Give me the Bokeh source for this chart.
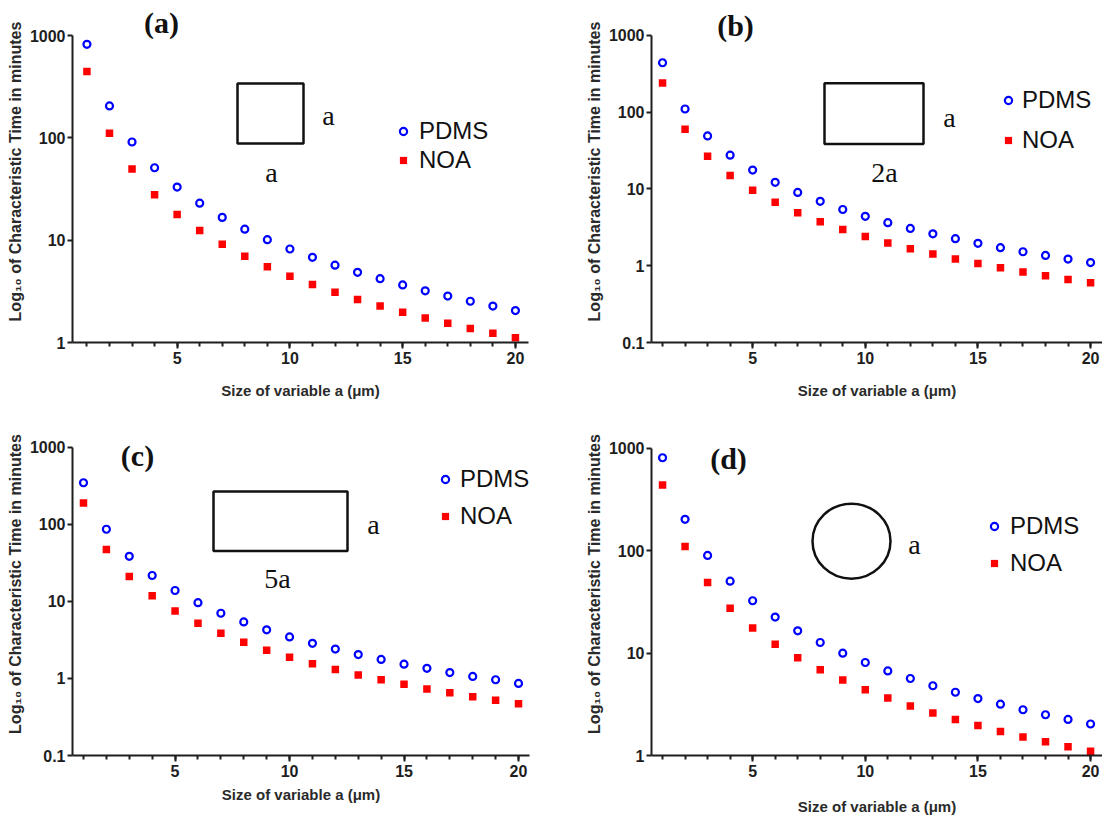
import math

from bokeh.embed import file_html
from bokeh.layouts import column, row
from bokeh.models import (CustomJSTickFormatter, FixedTicker, Label, Legend,
                          LegendItem, Range1d, Title)
from bokeh.plotting import figure
from bokeh.resources import INLINE

# ---------------------------------------------------------------- data
sizes_um = list(range(1, 21))

# (a) square cross-section a x a
pdms_a = [820, 205, 91, 51, 33, 23, 16.7, 12.8, 10.1, 8.2,
          6.8, 5.7, 4.85, 4.2, 3.65, 3.2, 2.84, 2.53, 2.27, 2.05]
noa_a = [445, 111, 49.5, 27.8, 17.8, 12.4, 9.1, 6.95, 5.5, 4.45,
         3.68, 3.09, 2.63, 2.27, 1.98, 1.74, 1.54, 1.37, 1.23, 1.11]

# (b) rectangle 2a x a
pdms_b = [440, 110, 49, 27.5, 17.6, 12.2, 9.0, 6.9, 5.4, 4.4,
          3.64, 3.06, 2.6, 2.25, 1.96, 1.72, 1.52, 1.36, 1.22, 1.1]
noa_b = [240, 60, 26.7, 15, 9.6, 6.7, 4.9, 3.75, 2.96, 2.4,
         1.98, 1.67, 1.42, 1.22, 1.07, 0.94, 0.83, 0.74, 0.66, 0.6]

# (c) rectangle 5a x a
pdms_c = [345, 86, 38.3, 21.6, 13.8, 9.6, 7.0, 5.4, 4.26, 3.45,
          2.85, 2.4, 2.04, 1.76, 1.53, 1.35, 1.19, 1.06, 0.96, 0.86]
noa_c = [188, 47, 20.9, 11.8, 7.5, 5.2, 3.84, 2.94, 2.32, 1.88,
         1.55, 1.3, 1.11, 0.96, 0.84, 0.73, 0.65, 0.58, 0.52, 0.47]

# (d) circular cross-section, diameter a
pdms_d = [810, 203, 90, 50.5, 32.5, 22.5, 16.5, 12.7, 10.0, 8.1,
          6.7, 5.65, 4.8, 4.15, 3.6, 3.17, 2.8, 2.5, 2.25, 2.03]
noa_d = [440, 110, 49, 27.5, 17.6, 12.2, 9.0, 6.9, 5.45, 4.4,
         3.65, 3.05, 2.6, 2.25, 1.96, 1.72, 1.52, 1.36, 1.22, 1.1]

series_names = ["PDMS", "NOA"]
x_ticks = [5, 10, 15, 20]
y_ticks_1 = [1, 10, 100, 1000]
y_ticks_01 = [0.1, 1, 10, 100, 1000]

x_title = "Size of variable a (\u03bcm)"
y_title = "Log\u2081\u2080 of Characteristic Time in minutes"

# ---------------------------------------------------------------- style
SANS = "Liberation Sans"
SERIF = "Liberation Serif"
BLUE = "#0000FF"
RED = "#FF0000"
INK = "#1e1e1e"


class Panel:
    """Figure placed at page offset (ox, oy).

    `axis` gives, in page px, the left of the y axis, the pixel of the axis
    top value, the right end of the x axis and the pixel of the bottom value.
    The plotting frame reaches up to the figure top so that the panel letter
    sits inside it; the axis itself is bounded to (y0, y1).
    """

    def __init__(self, ox, oy, w, h, axis, xr, yr, xlab_standoff):
        self.ox, self.oy, self.w, self.h = ox, oy, w, h
        self.fl, self.at, self.fr, self.fb = axis
        self.ft = oy
        self.xr = xr
        self.ybounds = yr
        l0, l1 = math.log10(yr[0]), math.log10(yr[1])
        per_px = (l1 - l0) / (self.fb - self.at)
        self.yr = (yr[0], 10 ** (l1 + (self.at - self.ft) * per_px))
        self.xlab_standoff = xlab_standoff

    def data_x(self, sx):
        x0, x1 = self.xr
        return x0 + (sx - self.fl) / (self.fr - self.fl) * (x1 - x0)

    def data_y(self, sy):
        l0, l1 = math.log10(self.yr[0]), math.log10(self.yr[1])
        return 10 ** (l1 - (sy - self.ft) / (self.fb - self.ft) * (l1 - l0))


def build(panel, pdms, noa, y_ticks, letter, letter_pos, legend_spec):
    p = figure(
        width=panel.w, height=panel.h,
        x_range=Range1d(*panel.xr), y_range=Range1d(*panel.yr),
        y_axis_type="log",
        output_backend="svg", toolbar_location=None,
        min_border_left=panel.fl - panel.ox,
        min_border_right=panel.ox + panel.w - panel.fr,
        min_border_top=0,
        min_border_bottom=panel.oy + panel.h - panel.fb,
    )
    p.outline_line_color = None
    p.xgrid.visible = False
    p.ygrid.visible = False
    p.background_fill_color = "white"
    p.border_fill_color = "white"

    for ax in (p.xaxis[0], p.yaxis[0]):
        ax.axis_line_color = INK
        ax.axis_line_width = 2
        ax.major_tick_line_color = INK
        ax.major_tick_line_width = 2
        ax.minor_tick_line_color = INK
        ax.minor_tick_line_width = 2
        ax.major_tick_in = 0
        ax.minor_tick_in = 0
        ax.major_label_text_font = SANS
        ax.major_label_text_font_style = "bold"
        ax.major_label_text_font_size = "16px"
        ax.major_label_text_color = INK
        ax.axis_label_text_font = SANS
        ax.axis_label_text_font_style = "bold"
        ax.axis_label_text_font_size = "15px"
        ax.axis_label_text_color = "#2a2a2a"

    xa = p.xaxis[0]
    xa.ticker = FixedTicker(ticks=x_ticks, minor_ticks=sizes_um)
    xa.major_tick_out = 6
    xa.minor_tick_out = 4
    xa.major_label_standoff = 3
    xa.axis_label = x_title
    xa.axis_label_standoff = panel.xlab_standoff

    ya = p.yaxis[0]
    ya.bounds = panel.ybounds
    ya.ticker = FixedTicker(ticks=y_ticks, minor_ticks=[])
    ya.formatter = CustomJSTickFormatter(code="return String(tick)")
    ya.major_tick_out = 5
    ya.minor_tick_out = 0
    ya.major_label_standoff = 2

    # y title as a side title so it can be centred on the axis span,
    # not on the taller frame
    frame_mid = (panel.ft + panel.fb) / 2
    axis_mid = (panel.at + panel.fb) / 2
    p.add_layout(Title(
        text=y_title, align="center", offset=axis_mid - frame_mid,
        text_font=SANS, text_font_style="bold", text_font_size="16px",
        text_color="#2a2a2a", standoff=6), "left")

    r_pdms = p.scatter(sizes_um, pdms, marker="circle", size=7,
                       fill_color=None, line_color=BLUE, line_width=2.2)
    r_noa = p.scatter(sizes_um, noa, marker="square", size=7.5,
                      fill_color=RED, line_color=None)

    # panel letter
    p.add_layout(Label(
        x=panel.data_x(letter_pos[0]), y=panel.data_y(letter_pos[1]),
        text=letter, text_font=SERIF, text_font_style="bold",
        text_font_size="30px", text_color="#111111",
        text_align="center", text_baseline="middle"))

    # legend
    cx, y1, y2, text_x = legend_spec
    row_h = 28
    left = cx - 9
    legend = Legend(
        items=[LegendItem(label=series_names[0], renderers=[r_pdms]),
               LegendItem(label=series_names[1], renderers=[r_noa])],
        location=(left - panel.fl, panel.fb - (y2 + row_h / 2)),
        orientation="vertical",
        border_line_color=None, background_fill_alpha=0,
        padding=0, margin=0, spacing=int(round(y2 - y1 - row_h)),
        glyph_width=18, glyph_height=row_h, label_height=row_h,
        label_standoff=int(round(text_x - left - 18)),
        label_text_font=SANS, label_text_font_size="24px",
        label_text_color="#111111",
    )
    p.add_layout(legend)
    return p


def shape_label(p, panel, text, sx, sy):
    p.add_layout(Label(
        x=panel.data_x(sx), y=panel.data_y(sy), text=text,
        text_font=SERIF, text_font_size="28px", text_color="#111111",
        text_align="center", text_baseline="middle"))


def shape_box(p, panel, l, t, r, b):
    p.quad(left=[panel.data_x(l)], right=[panel.data_x(r)],
           top=[panel.data_y(t)], bottom=[panel.data_y(b)],
           fill_color=None, line_color="#111111", line_width=2.5)


# ---------------------------------------------------------------- panels
P_a = Panel(0, 0, 551, 412, (72, 35, 528, 342), (0.36, 20.58), (1, 1000), 15)
P_b = Panel(551, 0, 551, 412, (651, 35, 1102, 343), (0.51, 20.53), (0.1, 1000), 15)
P_c = Panel(0, 412, 551, 405, (72, 447, 529, 759), (0.52, 20.48), (0.1, 1000), 6)
P_d = Panel(551, 412, 551, 405, (651, 448, 1102, 756), (0.51, 20.53), (1, 1000), 18)

pa = build(P_a, pdms_a, noa_a, y_ticks_1, "(a)", (161, 22), (403, 131, 160, 419))
shape_box(pa, P_a, 237, 83, 303, 143)
shape_label(pa, P_a, "a", 328, 115)
shape_label(pa, P_a, "a", 271, 172)

pb = build(P_b, pdms_b, noa_b, y_ticks_01, "(b)", (735, 25), (1008, 101, 141, 1022))
shape_box(pb, P_b, 824, 83, 923, 144)
shape_label(pb, P_b, "a", 949, 117)
shape_label(pb, P_b, "2a", 884, 173)

pc = build(P_c, pdms_c, noa_c, y_ticks_01, "(c)", (137, 456), (445, 483, 520, 460))
shape_box(pc, P_c, 213, 492, 347, 552)
shape_label(pc, P_c, "a", 373, 525)
shape_label(pc, P_c, "5a", 277, 580)

pd = build(P_d, pdms_d, noa_d, y_ticks_1, "(d)", (728, 458), (994, 527, 564, 1010))
pd.ellipse(x=[P_d.data_x(851)], y=[P_d.data_y(541)], width=78, height=75,
           width_units="screen", height_units="screen",
           fill_color=None, line_color="#111111", line_width=2.5)
shape_label(pd, P_d, "a", 914, 544)

layout = column(row(pa, pb, spacing=0), row(pc, pd, spacing=0), spacing=0)

open("out.html", "w").write(file_html(layout, INLINE))
